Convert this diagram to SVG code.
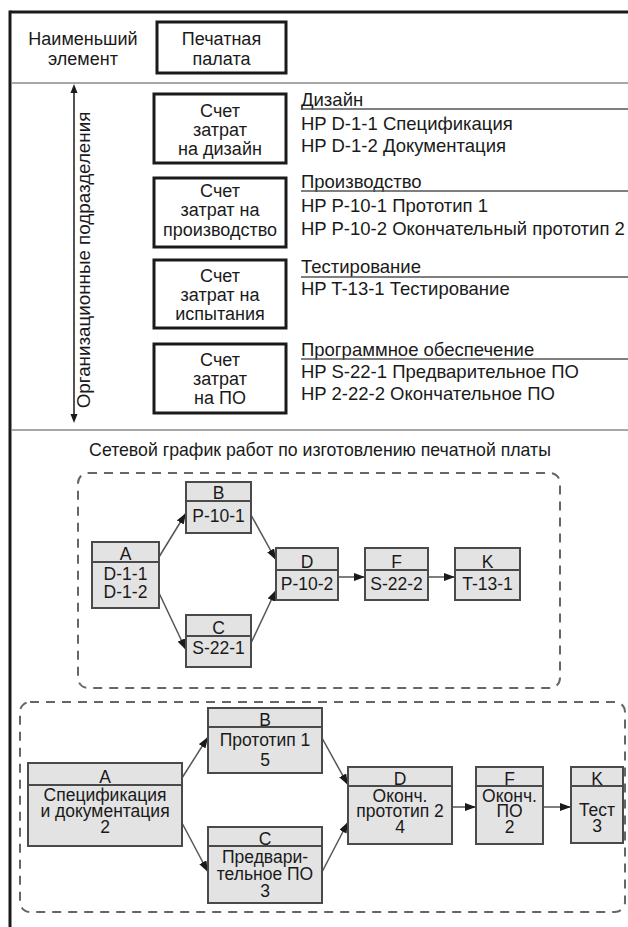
<svg xmlns="http://www.w3.org/2000/svg" width="628" height="927" viewBox="0 0 628 927">
<style>
text{font-family:"Liberation Sans",Arial,sans-serif;font-size:18px;fill:#1a1a1a}
.c{text-anchor:middle}
.lst{font-size:18.5px}
.ttl{font-size:17.7px}
.vert{font-size:18.8px}
.nt{font-size:17.5px}
.box{fill:#fff;stroke:#1a1a1a;stroke-width:3}
.node{fill:#e3e3e3;stroke:#4a4a4a;stroke-width:2}
.div{stroke:#4a4a4a;stroke-width:2}
.sep{stroke:#8a8a8a;stroke-width:1.5}
.ul{stroke:#555;stroke-width:1.3}
.dash{fill:none;stroke:#666;stroke-width:2;stroke-dasharray:9,7}
.con{stroke:#555;stroke-width:1.5;fill:none;marker-end:url(#ah)}
</style>
<defs>
<marker id="ah" markerUnits="userSpaceOnUse" markerWidth="11" markerHeight="8" refX="11" refY="4" orient="auto">
<path d="M0,0 L11,4 L0,8 z" fill="#1a1a1a"/>
</marker>
</defs>
<rect width="628" height="927" fill="#fff"/>
<g id="frame">
<line x1="10" y1="12" x2="628" y2="12" stroke="#1a1a1a" stroke-width="3"/>
<line x1="10" y1="10.5" x2="10" y2="927" stroke="#1a1a1a" stroke-width="3"/>
<line class="sep" x1="11" y1="83" x2="628" y2="83"/>
<line class="sep" x1="11" y1="430" x2="628" y2="430"/>
</g>
<g id="smallest">
<text class="c" x="83" y="45">Наименьший</text>
<text class="c" x="83" y="65">элемент</text>
</g>
<g id="board">
<rect class="box" x="157" y="22" width="129" height="51"/>
<text class="c" x="221.5" y="45">Печатная</text>
<text class="c" x="221.5" y="65">палата</text>
</g>
<g id="org-axis">
<line x1="74" y1="92" x2="74" y2="415" stroke="#1a1a1a" stroke-width="1.5"/>
<path d="M74,84 L70.5,93 L77.5,93 z" fill="#1a1a1a"/>
<path d="M74,423 L70.5,414 L77.5,414 z" fill="#1a1a1a"/>
<text class="c vert" transform="translate(89.5,260) rotate(-90)">Организационные подразделения</text>
</g>
<g id="acc-design">
<rect class="box" x="154" y="94" width="132" height="69"/>
<text class="c" x="220" y="117">Счет</text>
<text class="c" x="220" y="136">затрат</text>
<text class="c" x="220" y="155">на дизайн</text>
</g>
<g id="acc-prod">
<rect class="box" x="154" y="178" width="132" height="69"/>
<text class="c" x="220" y="197">Счет</text>
<text class="c" x="220" y="216">затрат на</text>
<text class="c" x="220" y="236">производство</text>
</g>
<g id="acc-test">
<rect class="box" x="154" y="260" width="132" height="68"/>
<text class="c" x="220" y="282">Счет</text>
<text class="c" x="220" y="301">затрат на</text>
<text class="c" x="220" y="320">испытания</text>
</g>
<g id="acc-sw">
<rect class="box" x="154" y="344" width="132" height="69"/>
<text class="c" x="220" y="366">Счет</text>
<text class="c" x="220" y="385">затрат</text>
<text class="c" x="220" y="404">на ПО</text>
</g>
<g id="list-design">
<text class="lst" x="301" y="106">Дизайн</text>
<line class="ul" x1="301" y1="109" x2="628" y2="109"/>
<text class="lst" x="301" y="130">HP D-1-1 Спецификация</text>
<text class="lst" x="301" y="152">HP D-1-2 Документация</text>
</g>
<g id="list-prod">
<text class="lst" x="301" y="188">Производство</text>
<line class="ul" x1="301" y1="191" x2="628" y2="191"/>
<text class="lst" x="301" y="212">HP P-10-1 Прототип 1</text>
<text class="lst" x="301" y="235">HP P-10-2 Окончательный прототип 2</text>
</g>
<g id="list-test">
<text class="lst" x="301" y="273">Тестирование</text>
<line class="ul" x1="301" y1="277" x2="628" y2="277"/>
<text class="lst" x="301" y="295">HP T-13-1 Тестирование</text>
</g>
<g id="list-sw">
<text class="lst" x="301" y="356">Программное обеспечение</text>
<line class="ul" x1="301" y1="359" x2="628" y2="359"/>
<text class="lst" x="301" y="378">HP S-22-1 Предварительное ПО</text>
<text class="lst" x="301" y="400">HP 2-22-2 Окончательное ПО</text>
</g>
<g id="title">
<text class="c ttl" x="320" y="456">Сетевой график работ по изготовлению печатной платы</text>
</g>
<g id="frames">
<rect class="dash" x="78" y="473" width="482" height="215" rx="10"/>
<rect class="dash" x="20" y="702" width="605" height="210" rx="10"/>
</g>
<g id="connectors">
<line class="con" x1="159" y1="557" x2="186" y2="513"/>
<line class="con" x1="159" y1="593" x2="186" y2="650"/>
<line class="con" x1="251" y1="515" x2="276" y2="560"/>
<line class="con" x1="251" y1="643" x2="276" y2="590"/>
<line class="con" x1="338" y1="577" x2="365" y2="577"/>
<line class="con" x1="428" y1="577" x2="455" y2="577"/>
<line class="con" x1="182" y1="778" x2="208" y2="737"/>
<line class="con" x1="182" y1="823" x2="208" y2="872"/>
<line class="con" x1="322" y1="738" x2="348" y2="785"/>
<line class="con" x1="322" y1="872" x2="348" y2="822"/>
<line class="con" x1="452" y1="807" x2="476" y2="807"/>
<line class="con" x1="543" y1="807" x2="571" y2="807"/>
</g>
<g id="n1-A">
<rect class="node" x="92" y="542" width="67" height="66"/>
<line class="div" x1="92" y1="562" x2="159" y2="562"/>
<text class="c nt" x="125.5" y="560">A</text>
<text class="c nt" x="125.5" y="580">D-1-1</text>
<text class="c nt" x="125.5" y="598">D-1-2</text>
</g>
<g id="n1-B">
<rect class="node" x="186" y="482" width="65" height="51"/>
<line class="div" x1="186" y1="501" x2="251" y2="501"/>
<text class="c nt" x="218.5" y="499">B</text>
<text class="c nt" x="218.5" y="522">P-10-1</text>
</g>
<g id="n1-C">
<rect class="node" x="186" y="615" width="65" height="52"/>
<line class="div" x1="186" y1="636" x2="251" y2="636"/>
<text class="c nt" x="218.5" y="634">C</text>
<text class="c nt" x="218.5" y="654">S-22-1</text>
</g>
<g id="n1-D">
<rect class="node" x="276" y="548" width="62" height="52"/>
<line class="div" x1="276" y1="570" x2="338" y2="570"/>
<text class="c nt" x="307" y="568">D</text>
<text class="c nt" x="307" y="590">P-10-2</text>
</g>
<g id="n1-F">
<rect class="node" x="365" y="548" width="63" height="52"/>
<line class="div" x1="365" y1="570" x2="428" y2="570"/>
<text class="c nt" x="396.5" y="568">F</text>
<text class="c nt" x="396.5" y="590">S-22-2</text>
</g>
<g id="n1-K">
<rect class="node" x="455" y="548" width="65" height="52"/>
<line class="div" x1="455" y1="570" x2="520" y2="570"/>
<text class="c nt" x="487.5" y="568">K</text>
<text class="c nt" x="487.5" y="590">T-13-1</text>
</g>
<g id="n2-A">
<rect class="node" x="28" y="763" width="154" height="83"/>
<line class="div" x1="28" y1="785" x2="182" y2="785"/>
<text class="c nt" x="105" y="783">A</text>
<text class="c nt" x="105" y="801">Спецификация</text>
<text class="c nt" x="105" y="817">и документация</text>
<text class="c nt" x="105" y="833">2</text>
</g>
<g id="n2-B">
<rect class="node" x="208" y="708" width="114" height="65"/>
<line class="div" x1="208" y1="727" x2="322" y2="727"/>
<text class="c nt" x="265" y="726">B</text>
<text class="c nt" x="265" y="746">Прототип 1</text>
<text class="c nt" x="265" y="766">5</text>
</g>
<g id="n2-C">
<rect class="node" x="208" y="827" width="114" height="76"/>
<line class="div" x1="208" y1="846" x2="322" y2="846"/>
<text class="c nt" x="265" y="845">C</text>
<text class="c nt" x="265" y="863">Предвари-</text>
<text class="c nt" x="265" y="880">тельное ПО</text>
<text class="c nt" x="265" y="897">3</text>
</g>
<g id="n2-D">
<rect class="node" x="348" y="767" width="104" height="77"/>
<line class="div" x1="348" y1="786" x2="452" y2="786"/>
<text class="c nt" x="400" y="785">D</text>
<text class="c nt" x="400" y="802">Оконч.</text>
<text class="c nt" x="400" y="817">прототип 2</text>
<text class="c nt" x="400" y="833">4</text>
</g>
<g id="n2-F">
<rect class="node" x="476" y="767" width="67" height="77"/>
<line class="div" x1="476" y1="786" x2="543" y2="786"/>
<text class="c nt" x="509.5" y="785">F</text>
<text class="c nt" x="509.5" y="802">Оконч.</text>
<text class="c nt" x="509.5" y="817">ПО</text>
<text class="c nt" x="509.5" y="833">2</text>
</g>
<g id="n2-K">
<rect class="node" x="571" y="767" width="52" height="76"/>
<line class="div" x1="571" y1="786" x2="623" y2="786"/>
<text class="c nt" x="597" y="785">K</text>
<text class="c nt" x="597" y="816">Тест</text>
<text class="c nt" x="597" y="832">3</text>
</g>
</svg>
